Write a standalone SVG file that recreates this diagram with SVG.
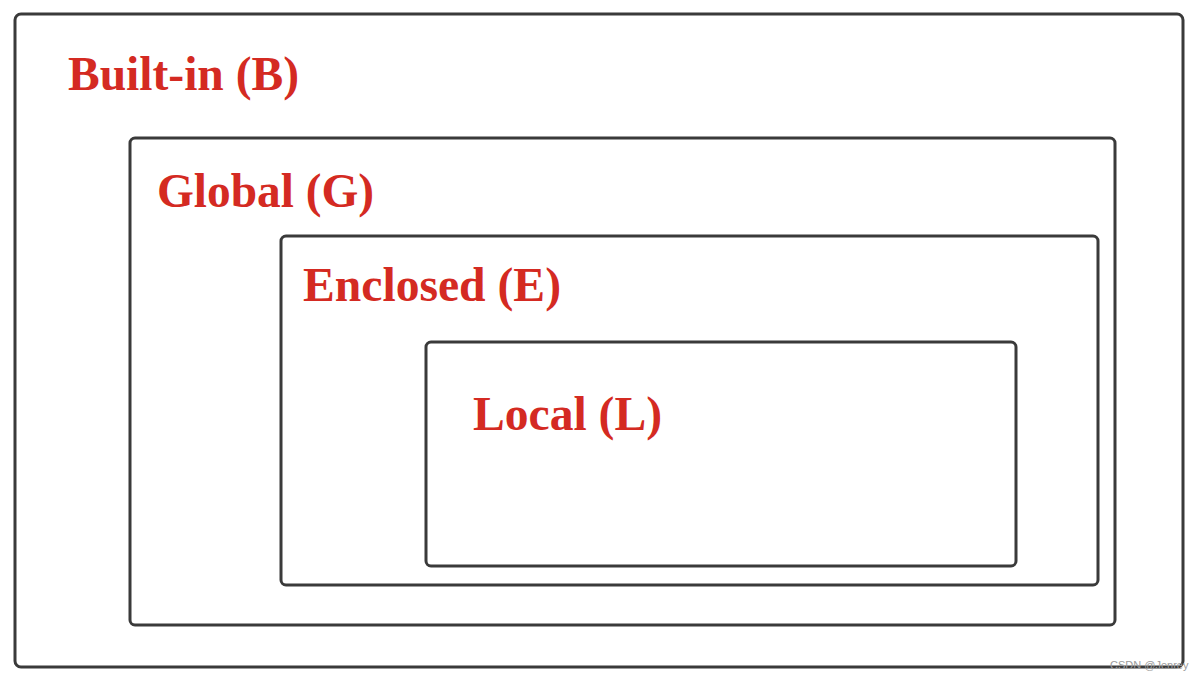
<svg xmlns="http://www.w3.org/2000/svg" width="1202" height="684" viewBox="0 0 1202 684">
<style>
.box{fill:none;stroke:#3a3a3a;stroke-width:3}
.lbl{font-family:"Liberation Serif","Times New Roman",serif;font-weight:bold;font-size:48px;fill:#d42a22}
.wm{font-family:"Liberation Sans",Arial,sans-serif;font-size:11px;fill:#9a9a9a}
</style>
<rect width="1202" height="684" fill="#ffffff"/>
<g id="builtin">
<rect class="box" x="15" y="14" width="1168" height="653" rx="6"/>
<text class="lbl" x="68" y="90" textLength="231" lengthAdjust="spacingAndGlyphs">Built-in (B)</text>
</g>
<g id="global">
<rect class="box" x="130" y="138" width="985" height="487" rx="5"/>
<text class="lbl" x="157" y="207" textLength="217" lengthAdjust="spacingAndGlyphs">Global (G)</text>
</g>
<g id="enclosed">
<rect class="box" x="281" y="236" width="817" height="349" rx="5"/>
<text class="lbl" x="303" y="301" textLength="258" lengthAdjust="spacingAndGlyphs">Enclosed (E)</text>
</g>
<g id="local">
<rect class="box" x="426" y="342" width="590" height="224" rx="5"/>
<text class="lbl" x="473" y="430" textLength="189" lengthAdjust="spacingAndGlyphs">Local (L)</text>
</g>
<g id="connectors"></g>
<text class="wm" x="1110" y="669">CSDN @Jenrey</text>
</svg>
